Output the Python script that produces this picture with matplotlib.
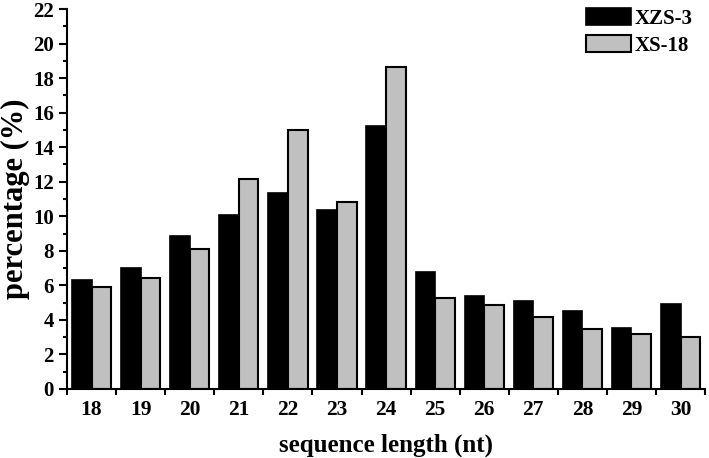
import numpy as np
import matplotlib.pyplot as plt
from matplotlib.ticker import MultipleLocator

plt.rcParams['font.family'] = ['Liberation Serif', 'DejaVu Serif']
plt.rcParams['font.weight'] = 'bold'

# longueurs de sequence et pourcentages
lengths = [18, 19, 20, 21, 22, 23, 24, 25, 26, 27, 28, 29, 30]
xzs3 = [6.33, 6.98, 8.86, 10.1, 11.36, 10.35, 15.22, 6.77, 5.36, 5.07, 4.53, 3.52, 4.89]
xs18 = [5.9, 6.44, 8.1, 12.13, 14.99, 10.81, 18.63, 5.28, 4.87, 4.16, 3.46, 3.17, 2.98]

x = np.array(lengths)
w = 0.4

fig = plt.figure(figsize=(7.09, 4.58), dpi=100)
ax = fig.add_axes([0.0945, 0.151, 0.9, 0.829])

ax.bar(x - w / 2, xzs3, w, color='black', edgecolor='black', linewidth=1.2, label='XZS-3')
ax.bar(x + w / 2, xs18, w, color='#c0c0c0', edgecolor='black', linewidth=1.5, label='XS-18')

ax.set_xlim(17.5, 30.5)
ax.set_ylim(0, 22)
ax.set_xticks(x)
ax.xaxis.set_minor_locator(MultipleLocator(1, offset=0.5))
ax.yaxis.set_major_locator(MultipleLocator(2))
ax.yaxis.set_minor_locator(MultipleLocator(1))
ax.tick_params(axis='x', which='major', length=0, pad=8, labelsize=15.5)
ax.tick_params(axis='x', which='minor', length=4, width=1.5)
ax.tick_params(axis='y', which='major', length=6, width=1.5, labelsize=15)
ax.tick_params(axis='y', which='minor', length=3, width=1.5)

for s in ['top', 'right']:
    ax.spines[s].set_visible(False)
for s in ['left', 'bottom']:
    ax.spines[s].set_linewidth(1.5)

ax.set_xlabel('sequence length (nt)', fontsize=18, fontweight='bold', labelpad=10)
ax.set_ylabel('percentage (%)', fontsize=22, fontweight='bold', labelpad=2)

ax.legend(loc='upper right', bbox_to_anchor=(1.0, 1.035), frameon=False, fontsize=15,
          handlelength=2.2, handleheight=0.85, handletextpad=0.15, labelspacing=0.3,
          borderaxespad=0.2)

plt.savefig('out.png', dpi=100)
